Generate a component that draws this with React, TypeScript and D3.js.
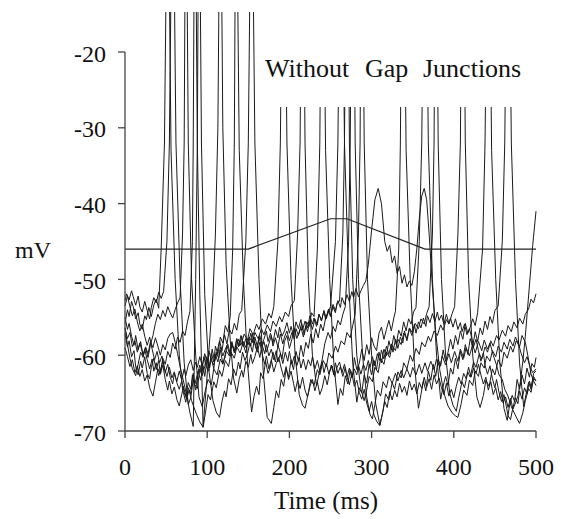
import React from "react";
import * as d3 from "d3";

const timeTicks = [0, 100, 200, 300, 400, 500];
const mvTicks = [-70, -60, -50, -40, -30, -20];
const titleWords = ["Without", "Gap", "Junctions"];
const threshold = [0, -46, 150, -46, 250, -42, 270, -42, 365, -46, 500, -46];

const trace1 = [
  0,-55.8, 3,-54.0, 5,-54.9, 8,-52.9, 10,-53.6, 13,-55.2, 16,-54.4, 18,-55.9, 21,-56.6, 24,-54.8, 26,-55.3, 29,-53.7, 32,-54.9, 35,-53.4, 38,-52.6, 41,-53.8,
  44,-46, 48,-32, 52,10, 56,-33, 61,-50, 66,-60, 70,-64.5, 74,-66.2, 77,-64.3, 80,-65.1, 82,-62.6, 85,-63.9, 88,-64.4, 91,-61.8, 93,-62.5, 96,-60.2, 99,-61.6, 102,-62.1, 105,-59.7, 108,-60.9, 110,-58.8, 113,-59.9, 116,-57.6, 119,-58.4, 122,-56.1, 125,-56.9, 128,-54.9,
  131,-46, 133,-32, 135,10, 139,-33, 144,-50, 149,-61, 154,-67.5, 157,-65.4, 160,-64.1, 163,-65.2, 165,-62.3, 168,-63.1, 171,-60.8, 174,-62.4, 177,-61.5, 180,-59.6, 183,-60.9, 186,-58.7, 188,-59.3, 191,-60.5, 194,-58.2, 197,-57.4, 200,-59.1, 203,-57.9, 206,-56.4, 209,-57.8, 212,-56.9, 215,-55.8, 218,-57.3, 221,-55.6, 224,-56.2, 227,-54.4, 230,-54.9,
  234,-46, 237,-32, 240,10, 244,-33, 249,-50, 254,-61, 259,-66.5, 262,-64.4, 265,-65.3, 268,-62.7, 271,-63.8, 274,-61.9, 277,-62.6, 279,-60.3, 282,-61.9, 285,-61.1, 288,-59.2, 291,-60.7, 294,-58.6, 297,-59.9, 300,-57.7, 303,-58.8, 306,-59.4, 309,-57.1, 312,-56.3, 315,-57.9, 318,-56.6, 321,-55.4, 324,-56.8, 327,-55.1, 329,-54.2,
  333,-46, 335,-32, 338,10, 342,-33, 347,-50, 352,-61, 357,-67, 360,-65.2, 363,-63.4, 366,-64.7, 369,-62.1, 372,-63.3, 375,-61.2, 378,-62.8, 381,-60.6, 384,-61.4, 387,-59.3, 390,-60.8, 393,-59.6, 396,-57.9, 399,-59.2, 402,-57.4, 405,-58.6, 408,-56.8, 411,-57.9, 414,-55.8, 417,-57.1, 420,-56.3, 423,-55.2, 426,-56.1, 429,-54.4,
  435,-46, 438,-32, 442,10, 446,-33, 451,-50, 456,-61, 461,-67, 465,-68.6, 468,-66.5, 471,-65.3, 474,-66.1, 477,-63.2, 480,-64.5, 483,-62.6, 486,-63.8, 489,-61.7, 492,-62.9, 495,-61.1, 498,-61.6, 500,-60.3,
];

const trace2 = [
  0,-52.8, 2,-51.9, 5,-52.7, 8,-51.5, 10,-52.3, 13,-53.4, 16,-52.2, 18,-53.6, 21,-54.3, 24,-52.9, 27,-54.1, 30,-55.2, 32,-53.7, 35,-52.4, 38,-53.1, 41,-51.7, 44,-52.5, 47,-51.6,
  51,-45, 54,-32, 58,10, 62,-32, 67,-50, 72,-61, 77,-66.5, 80,-65.6, 83,-63.2, 86,-64.6, 89,-62.1, 92,-63.3, 95,-61.4, 97,-62.8, 100,-60.5, 103,-61.7, 106,-59.2, 109,-60.8, 112,-59.6, 115,-58.1, 118,-59.4, 121,-57.3, 124,-58.5, 127,-56.6, 130,-57.2, 133,-55.8, 136,-56.7, 139,-54.6, 142,-54.1,
  147,-45, 150,-32, 154,10, 158,-32, 163,-50, 168,-62, 173,-68.2, 178,-69, 181,-66.9, 184,-64.7, 187,-65.6, 190,-63.2, 193,-64.1, 196,-61.8, 199,-62.9, 202,-60.6, 205,-61.9, 208,-59.5, 211,-60.8, 214,-58.7, 217,-60.2, 220,-58.3, 223,-59.1, 226,-57.2, 229,-58.4, 232,-56.5, 235,-57.7, 238,-55.9, 241,-56.8, 244,-55.1, 247,-54.4, 250,-53.6,
  256,-45, 259,-32, 263,10, 267,-32, 272,-50, 277,-61, 282,-66.2, 285,-64.3, 288,-65, 291,-62.6, 294,-63.7, 297,-61.2, 300,-62.6, 303,-60.7, 306,-61.9, 309,-59.6, 312,-61, 315,-59.2, 318,-60.1, 321,-58.1, 324,-59.3, 327,-57.4, 330,-58.6, 333,-56.7, 336,-57.5, 339,-55.6, 342,-56.8, 345,-55.2, 348,-55.9, 351,-54.3, 354,-53.7,
  358,-45, 361,-32, 365,10, 369,-32, 374,-50, 379,-60, 384,-65.8, 387,-64.1, 390,-62.8, 393,-64, 396,-61.7, 399,-62.5, 402,-60.4, 405,-61.8, 408,-59.5, 411,-60.6, 414,-58.6, 417,-59.9, 420,-57.8, 423,-58.9, 426,-56.9, 429,-58.2, 432,-56.4, 435,-57.3, 438,-55.5, 441,-56.6, 444,-54.9, 447,-55.8, 450,-54.1, 454,-53.5,
  459,-45, 462,-32, 466,10, 470,-32, 475,-50, 480,-61, 485,-66.8, 488,-65.1, 491,-63.6, 494,-64.5, 497,-62.4, 500,-62.1,
];

const trace3 = [
  0,-56.4, 3,-57.8, 6,-57, 9,-58.9, 12,-58.1, 15,-59.6, 18,-58.4, 22,-59.9, 25,-59, 28,-60.3, 31,-58.6, 34,-57.4, 37,-55.8, 40,-54.6, 43,-55.3, 46,-54.1, 49,-54.9, 52,-53.6, 55,-54.4, 58,-55.1, 61,-54, 64,-53.1, 67,-52.4,
  70,-44, 72,-32, 74,10, 77,-32, 81,-50, 86,-60, 90,-65.5, 94,-66.8, 97,-65, 101,-63.2, 105,-63.9, 108,-61.8, 112,-62.6, 116,-60.5, 119,-61.2, 123,-59.4, 127,-60.1, 130,-58.6, 134,-59.5, 138,-57.9, 141,-58.7, 145,-57.2, 149,-58, 152,-56.5, 156,-57.3, 160,-55.9, 163,-56.6, 167,-55.2, 171,-55.9, 175,-54.5, 178,-55.1, 181,-53.6,
  186,-45, 189,-32, 193,10, 197,-32, 202,-50, 207,-60, 212,-65.2, 216,-66.6, 219,-67, 223,-65, 226,-63.2, 230,-64, 234,-61.9, 237,-62.6, 241,-60.7, 245,-61.5, 248,-59.7, 252,-60.4, 256,-58.8, 259,-59.6, 263,-58.1, 267,-58.6, 270,-57, 274,-57.7, 277,-56.1, 280,-54.6,
  284,-44, 286,-32, 288,10, 291,-32, 295,-50, 300,-60, 305,-66.4, 310,-69.2, 314,-67.3, 317,-65.1, 321,-65.9, 325,-63.6, 328,-64.5, 332,-62.2, 336,-63, 339,-61, 343,-61.8, 347,-60, 350,-60.8, 354,-59.1, 358,-59.9, 361,-58.3, 365,-58.9, 369,-57.5, 372,-58.2, 376,-56.8, 380,-57.4, 384,-56, 387,-56.7, 391,-55.3, 394,-55.9, 398,-54.5, 401,-53.6,
  405,-44, 408,-32, 411,10, 414,-32, 418,-50, 423,-60, 428,-65.5, 432,-66.9, 436,-65.3, 439,-63.3, 443,-64.1, 447,-61.8, 450,-62.6, 454,-60.6, 458,-61.5, 461,-59.6, 465,-60.4, 469,-58.8, 472,-59.6, 476,-58.1, 480,-58.9, 483,-57.4, 487,-58.3, 490,-60, 494,-62.5, 497,-63.4, 500,-64,
];

const trace4 = [
  0,-59, 3,-60.2, 6,-61.5, 9,-60.6, 12,-62.3, 15,-61.4, 18,-62.8, 21,-61.9, 24,-63.4, 27,-62.6, 30,-64.3, 34,-65.4, 37,-63.6, 40,-61.8, 43,-62.5, 46,-60.4, 49,-61.2, 52,-59.5, 55,-60.3, 58,-58.4, 61,-59.2, 64,-57.6, 67,-58.3, 70,-56.8, 73,-57.4, 76,-55.6, 79,-54.2,
  82,-45, 83,-32, 85,10, 88,-32, 91,-52, 95,-69.5, 98,-67.5, 101,-65.2, 104,-65.9, 108,-63.5, 111,-64.3, 115,-62, 118,-62.8, 122,-60.7, 126,-61.5, 129,-59.6, 133,-60.4, 136,-58.9, 140,-59.7, 144,-58.2, 147,-59, 151,-57.6, 155,-58.3, 158,-57, 162,-57.8, 166,-56.5, 169,-57.3, 173,-56, 177,-56.9, 180,-55.5, 184,-56.2, 188,-54.9, 191,-55.6, 195,-54.3, 199,-54.9, 202,-53.5, 206,-52.8,
  210,-44, 213,-32, 216,10, 219,-32, 223,-50, 228,-60, 233,-64, 236,-62.5, 240,-60.5, 243,-58.5, 247,-57, 250,-57.8, 253,-56.2, 256,-56.9, 259,-55.4, 262,-56, 265,-54.6, 268,-53.6,
  272,-45, 274,-32, 277,10, 280,-32, 284,-50, 289,-60, 294,-65.5, 298,-67.8, 301,-68.4, 304,-66.5, 307,-64.6, 311,-65.4, 314,-63.5, 318,-64.3, 321,-62.8, 325,-63.7, 329,-62.4, 332,-63.4, 336,-62, 339,-63, 343,-61.8, 347,-62.9, 350,-61.6, 354,-62.6, 358,-61.2, 361,-62.4, 365,-61, 368,-62.1, 372,-60.8, 376,-61.9, 379,-60.5, 383,-61.6, 386,-60.1, 390,-61.3, 394,-59.8, 397,-61, 401,-59.5, 405,-60.8, 408,-59.2, 412,-60.4, 415,-59, 419,-60.1, 423,-58.6, 426,-59.7, 430,-58.2, 434,-59.4, 437,-58, 441,-59.2, 444,-58.4, 448,-60, 452,-61.3, 455,-62.6, 459,-63.2, 462,-64.5, 466,-65.4, 470,-66.8, 473,-67.5, 477,-68.4, 480,-69, 484,-67.6, 487,-66, 491,-64.4, 494,-64.9, 497,-63.1, 500,-63.4,
];

const trace5 = [
  0,-56.4, 3,-58.6, 6,-60.4, 9,-61.8, 13,-62.7, 16,-61.2, 19,-59.6, 22,-60.3, 25,-58.9, 28,-59.8, 31,-58.2, 34,-59, 37,-57.7, 40,-58.8, 43,-60, 46,-58.6, 49,-59.3, 52,-57.8, 55,-57.2, 58,-57, 61,-58.3, 64,-59.8, 67,-61.5, 70,-62.9, 73,-64.3, 76,-65.8, 79,-67.6, 83,-69.4,
  86,-50, 88,-32, 90,10, 93,-32, 97,-52, 102,-62, 107,-66, 111,-67.5, 115,-68.2, 118,-66.1, 121,-64.7, 123,-65.5, 126,-63.1, 129,-63.9, 132,-61.8, 135,-62.7, 138,-60.9, 140,-61.8, 143,-59.6, 146,-60.7, 149,-59.8, 152,-58.4, 155,-59.6, 157,-58.1, 160,-59.3, 163,-57.6, 166,-58.8, 169,-57.9, 172,-56.8, 174,-58.2, 177,-57.1, 180,-58.4, 183,-56.6, 186,-57.7, 188,-56.3, 191,-57.5, 194,-56.8, 197,-55.7, 200,-57.1, 202,-56.2, 205,-57.4, 208,-55.6, 211,-56.5, 214,-55.3, 216,-56.7, 219,-55.5, 222,-56.4, 225,-54.8, 228,-55.9, 230,-55.1, 233,-56.2, 236,-54.6, 239,-55.4, 242,-54.2, 244,-55.3, 247,-54.1, 250,-54.9, 253,-53.6, 256,-54.4, 258,-53.1, 261,-52.9,
  265,-44, 267,-32, 270,10, 273,-32, 277,-50, 282,-60, 287,-64.5, 291,-66, 294,-64.6, 297,-62.8, 301,-63.5, 304,-61.6, 308,-62.3, 311,-60.4, 315,-61.2, 318,-59.6, 322,-60.3, 325,-58.7, 329,-59.4, 332,-57.9, 336,-58.6, 339,-57.1, 343,-57.8, 346,-56.4, 350,-57.1, 353,-55.8, 357,-56.5, 360,-55.2, 364,-55.9, 367,-54.5, 370,-53.6,
  374,-44, 376,-32, 378,10, 381,-32, 385,-50, 390,-60, 395,-65, 399,-66.6, 403,-67.4, 406,-65.6, 410,-63.5, 413,-64.3, 417,-62.2, 420,-62.9, 424,-60.9, 427,-61.6, 431,-59.8, 434,-60.5, 438,-58.9, 441,-59.6, 445,-58.1, 448,-58.8, 452,-57.4, 455,-58, 459,-56.7, 463,-57.5, 466,-56.1, 470,-56.9, 473,-55.6, 477,-56.4, 480,-55.1, 484,-55.9, 487,-54.6, 491,-53.9, 494,-52.6, 497,-53.1, 500,-51.9,
];

const trace6 = [
  0,-53.5, 3,-52.2, 6,-53.6, 9,-54.8, 12,-53.9, 15,-55.6, 18,-56.8, 21,-55.9, 24,-57.5, 27,-58.7, 30,-57.6, 33,-59.2, 36,-60.6, 39,-59.5, 42,-61, 45,-60.1, 48,-61.7, 51,-62.8, 54,-61.6, 57,-63, 60,-62.2, 63,-63.6, 66,-64.5, 69,-63.4, 72,-64.9, 75,-65.8, 78,-64.6, 81,-66, 84,-66.9, 87,-67.8, 91,-68.8, 95,-69.5,
  99,-64, 103,-58, 107,-52, 110,-44, 113,-30, 116,10, 119,-30, 123,-48, 128,-58, 132,-63, 136,-65, 139,-63.1, 142,-62, 144,-62.9, 147,-60.8, 150,-61.6, 153,-59.9, 155,-61.1, 158,-60.2, 161,-58.9, 164,-60.3, 166,-59.1, 169,-58.2, 172,-59.6, 175,-58.5, 178,-57.4, 180,-58.8, 183,-57.7, 186,-58.9, 189,-57.2, 192,-58.5, 194,-57.6, 197,-56.8, 200,-58.1, 203,-57, 206,-57.9, 208,-56.5, 211,-57.4, 214,-56.3, 217,-57.6, 220,-56.1, 222,-56.9, 225,-55.4, 228,-56.6, 231,-55.2, 234,-56, 236,-54.6, 239,-55.5, 242,-54.1, 245,-55.2, 248,-53.9, 250,-54.8, 253,-53.3, 256,-54.1, 259,-52.8, 262,-53.7, 264,-52.4, 267,-53.3, 270,-52, 273,-52.9, 276,-51.6, 278,-52.4, 281,-51.2, 284,-52.3, 287,-51.5, 290,-50.8, 293,-50.2, 296,-48,
  300,-43.5, 304,-39.5, 308,-38, 312,-40, 316,-45, 319,-46.3, 322,-45.5, 325,-47.8, 328,-46.9, 331,-49.2, 334,-48.3, 337,-50.5, 340,-49.4, 343,-51, 346,-50.2, 349,-50.8, 352,-49, 355,-46, 358,-42, 361,-39, 364,-38, 367,-39.5, 370,-44, 374,-51, 378,-57, 383,-62, 388,-65, 393,-66.7, 398,-67.6, 402,-68, 405,-68.2,
  409,-66.4, 412,-64.6, 416,-65.3, 419,-63.3, 423,-64, 426,-62.1, 430,-62.8, 433,-61, 437,-61.7, 440,-60.1, 444,-60.8, 447,-59.4, 451,-60.2, 454,-58.8, 458,-59.6, 461,-58.3, 465,-59.2, 468,-57.9, 472,-58.8, 475,-57.6, 479,-58.6, 482,-59.8, 486,-61, 489,-60.2, 493,-61.6, 496,-62.3, 500,-61.8,
];

const trace7 = [
  0,-57.2, 3,-58.9, 5,-58.1, 8,-60.2, 11,-59.4, 13,-61.5, 16,-62.6, 19,-60.8, 21,-61.7, 24,-60.2, 27,-62.4, 30,-63.1, 32,-61.6, 35,-60.4, 38,-61.9, 41,-60.7, 43,-62.5, 46,-61.3, 49,-63.2, 52,-64.6, 54,-63.4, 57,-65.1, 60,-64.2, 63,-65.8, 66,-66.7, 69,-65.2, 71,-64.1, 74,-65.4, 77,-63.6, 80,-64.5, 83,-62.4, 85,-63.8, 88,-62.6, 91,-61.3, 94,-62.7, 97,-61.5, 99,-60.2, 102,-61.6, 105,-60.4, 108,-61.8, 110,-59.9, 113,-60.9, 116,-59.3, 119,-61.1, 122,-60.2, 124,-58.7, 127,-59.8, 130,-58.2, 133,-59.5, 136,-57.8, 138,-58.9, 141,-57.4, 144,-58.6, 147,-59.7, 150,-57.9, 153,-58.8, 155,-57.2, 158,-58.4, 161,-59.6, 164,-58.3, 167,-59.9, 170,-61.2, 172,-60.1, 175,-61.8, 178,-60.6, 181,-62.2, 184,-61.1, 187,-60.3, 190,-61.7, 193,-62.9, 196,-61.5, 199,-63.2, 202,-62.1, 205,-63.7, 207,-64.8, 210,-63.3, 213,-64.4, 216,-62.9, 219,-64.6, 222,-65.5, 225,-64.1, 228,-63.2, 231,-64.7, 234,-63.5, 237,-65.2, 240,-64.3, 243,-62.7, 246,-63.9, 249,-62.2, 252,-61.4, 255,-62.8, 258,-61.6, 261,-60.9, 264,-62.3, 267,-61.2, 270,-62.8, 273,-63.9, 276,-62.4, 279,-64.1, 282,-63.3, 285,-64.9, 288,-65.8, 291,-64.5, 294,-66.3, 297,-67.4, 300,-66.1, 303,-67.9, 306,-68.7, 310,-69.3, 313,-67.8, 316,-66.1, 319,-66.9, 322,-64.8, 325,-65.9, 328,-64.6, 331,-65.5, 334,-63.7, 337,-64.9, 340,-64.1, 343,-65.3, 346,-63.4, 349,-64.6, 352,-63.8, 355,-65.1, 358,-63.6, 361,-64.4, 364,-62.9, 367,-64.2, 370,-63.1, 373,-64.5, 376,-62.6, 379,-63.8, 382,-63, 385,-64.3, 388,-65.2, 391,-63.7, 394,-65.4, 397,-64.5, 400,-65.6, 403,-64.1, 406,-62.9, 409,-63.8, 412,-62.4, 415,-63.1, 418,-61.6, 421,-62.9, 424,-61.7, 427,-62.4, 430,-61.2, 433,-62.6, 436,-63.8, 439,-62.9, 442,-64.6, 445,-63.5, 448,-65.2, 451,-64.3, 454,-65.9, 457,-64.8, 460,-66.3, 463,-65.5, 466,-66.9, 469,-65.7, 472,-67.1, 475,-66.3, 478,-65.4, 481,-63.5, 484,-60.8, 487,-57.5, 490,-53.5, 493,-49.5, 496,-45.5, 500,-41,
];

const trace8 = [
  0,-55, 3,-56.6, 5,-55.8, 8,-57.5, 11,-58.7, 13,-57.4, 16,-59.3, 19,-58.2, 22,-60.1, 24,-59.2, 27,-60.6, 30,-61.8, 33,-60.5, 35,-62.1, 38,-61, 41,-62.7, 44,-61.6, 46,-60.8, 49,-62.3, 52,-61.2, 55,-62.9, 58,-63.8, 60,-62.4, 63,-63.5, 66,-62.1, 69,-63.3, 72,-61.8, 74,-62.7, 77,-61.3, 80,-60.6, 83,-62, 86,-60.9, 88,-61.6, 91,-60.2, 94,-61.4, 97,-59.8, 100,-60.9, 102,-59.4, 105,-60.7, 108,-61.3, 111,-59.6, 114,-60.4, 116,-58.9, 119,-60.1, 122,-59.2, 125,-58.5, 128,-59.9, 130,-58.4, 133,-59.7, 136,-57.9, 139,-58.8, 142,-57.5, 144,-58.9, 147,-57.8, 150,-58.6, 153,-57.1, 156,-58.4, 158,-57.6, 161,-58.9, 164,-57.4, 167,-58.7, 170,-59.8, 172,-58.6, 175,-60.1, 178,-59.2, 181,-60.6, 184,-59.4, 186,-60.9, 189,-59.8, 192,-61.1, 195,-59.6, 198,-60.8, 200,-59.5, 203,-61.2, 206,-60.1, 209,-61.4, 212,-60.3, 214,-61.7, 217,-60.5, 220,-61.9, 223,-60.6, 226,-61.4, 228,-60.2, 231,-61.8, 234,-60.7, 237,-62.1, 240,-60.9, 242,-62.3, 245,-61.1, 248,-62.5, 251,-61.3, 254,-62.6, 256,-61, 259,-62.4, 262,-61.5, 265,-62.8, 268,-61.6, 270,-62.9, 273,-61.7, 276,-63, 279,-61.8, 282,-62.6, 284,-61.3, 287,-62.5, 290,-61.2, 293,-62, 296,-60.7, 298,-61.6, 301,-60.2, 304,-61.4, 307,-59.8, 310,-60.7, 312,-59.3, 315,-60.5, 318,-58.8, 321,-59.9, 324,-58.5, 326,-59.6, 329,-57.9, 332,-59.1, 335,-57.6, 338,-58.4, 340,-56.8, 343,-58.1, 346,-56.5, 349,-57.4, 352,-55.9, 354,-57.1, 357,-55.6, 360,-56.4, 363,-55.1, 366,-56.2, 368,-54.8, 371,-55.7, 374,-54.5, 377,-55.6, 380,-54.3, 382,-55.4, 385,-54.7, 388,-55.9, 391,-54.6, 394,-55.8, 396,-55.1, 399,-56.3, 402,-55.2, 405,-56.6, 408,-55.7, 410,-56.9, 413,-55.9, 416,-57.3, 419,-56.5, 422,-57.8, 424,-58.9, 427,-57.9, 430,-59.4, 433,-60.8, 436,-59.7, 438,-61.3, 441,-62.5, 444,-61.4, 447,-63.1, 450,-64.3, 452,-63.2, 455,-64.9, 458,-66.1, 461,-65.2, 464,-66.8, 466,-68, 469,-68.5, 472,-66.9, 475,-65.6, 478,-66.4, 480,-64.7, 483,-65.8, 486,-64.3, 489,-65.1, 492,-63.4, 494,-64.2, 497,-62.8, 500,-63.4,
];

const traces = [trace1, trace2, trace3, trace4, trace5, trace6, trace7, trace8];

function toPairs(a: number[]): [number, number][] {
  const r: [number, number][] = [];
  for (let i = 0; i + 1 < a.length; i += 2) r.push([a[i], a[i + 1]]);
  return r;
}

const FONT = '"Liberation Serif", "Times New Roman", serif';

export default function App() {
  const W = 561;
  const H = 519;
  const x = d3.scaleLinear().domain([0, 500]).range([125, 536]);
  const y = d3.scaleLinear().domain([-70, -20]).range([431, 52]);
  const line = d3
    .line<[number, number]>()
    .x((d) => x(d[0]))
    .y((d) => y(d[1]));
  const titleX = [265, 365, 423];

  return (
    <svg
      width={W}
      height={H}
      viewBox={`0 0 ${W} ${H}`}
      style={{ position: "absolute", left: 0, top: 0, background: "#fff" }}
    >
      <defs>
        <clipPath id="plotClip">
          <rect x={120} y={12} width={140} height={430} />
          <rect x={260} y={107} width={290} height={335} />
        </clipPath>
      </defs>
      <rect x={0} y={0} width={W} height={H} fill="#fff" />

      <g clipPath="url(#plotClip)" fill="none" stroke="#1a1a1a" strokeWidth={1} strokeLinejoin="round">
        {traces.map((t, i) => (
          <path key={i} d={line(toPairs(t)) || ""} />
        ))}
      </g>
      <path d={line(toPairs(threshold)) || ""} fill="none" stroke="#222" strokeWidth={1.2} />

      <g stroke="#444" strokeWidth={1.3} fill="none">
        <line x1={x(0)} x2={x(0)} y1={y(-20)} y2={y(-70)} />
        <line x1={x(0)} x2={x(500)} y1={y(-70)} y2={y(-70)} />
        {mvTicks.map((v) => (
          <line key={v} x1={x(0) - 7} x2={x(0)} y1={y(v)} y2={y(v)} />
        ))}
        {timeTicks.map((t) => (
          <line key={t} x1={x(t)} x2={x(t)} y1={y(-70)} y2={y(-70) + 7} />
        ))}
      </g>

      <g fontFamily={FONT} fontSize={24} fill="#111">
        {mvTicks.map((v) => (
          <text key={v} x={106} y={y(v) + 9.5} textAnchor="end">
            {String(v)}
          </text>
        ))}
        {timeTicks.map((t) => (
          <text key={t} x={x(t)} y={475} textAnchor="middle">
            {String(t)}
          </text>
        ))}
        <text x={15} y={258}>mV</text>
        <text x={326} y={509} textAnchor="middle" fontSize={25}>
          Time (ms)
        </text>
        {titleWords.map((w, i) => (
          <text key={w} x={titleX[i]} y={76.5} fontSize={26}>
            {w}
          </text>
        ))}
      </g>
    </svg>
  );
}
